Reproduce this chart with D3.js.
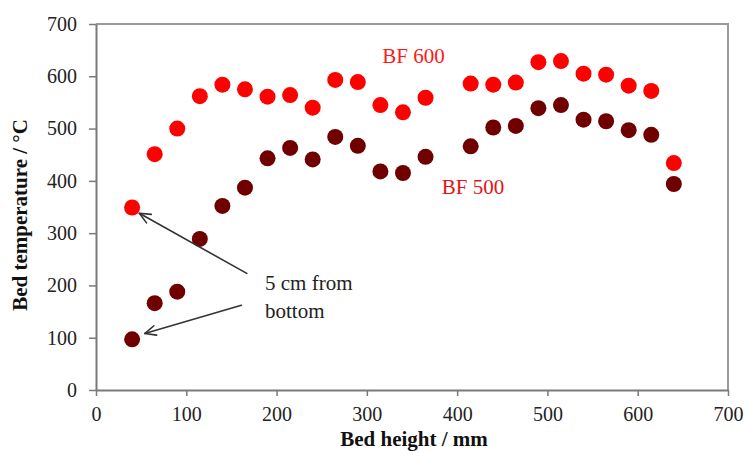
<!DOCTYPE html>
<html>
<head>
<meta charset="utf-8">
<script src="https://cdn.jsdelivr.net/npm/d3@7"></script>
<style>
  html, body { margin: 0; padding: 0; background: #fff; }
  svg { display: block; }
</style>
</head>
<body>
<svg id="chart" width="745" height="459"></svg>
<script>
// Bed heights (mm) where temperature was measured
const bedHeight = [40, 65, 90, 115, 140, 165, 190, 215, 240, 265, 290, 315, 340, 365,
                   415, 440, 465, 490, 515, 540, 565, 590, 615, 640];

// Bed temperature (°C) for each run
const tempBF600 = [349, 451, 500, 562, 584, 575, 561, 564, 540, 593, 589, 545, 531, 559,
                   586, 584, 588, 627, 629, 605, 603, 582, 572, 434];
const tempBF500 = [97, 166, 188, 289, 352, 387, 443, 463, 441, 484, 467, 418, 415, 446,
                   466, 502, 505, 539, 545, 517, 514, 497, 488, 394];

const xTicks = [0, 100, 200, 300, 400, 500, 600, 700];
const yTicks = [0, 100, 200, 300, 400, 500, 600, 700];

const seriesNames = ["BF 600", "BF 500"];
const noteLines = ["5 cm from", "bottom"];

const SERIF = "'Liberation Serif', 'Times New Roman', 'DejaVu Serif', serif";

const svg = d3.select("#chart").attr("font-family", SERIF);
const margin = { left: 96, right: 17, top: 24, bottom: 69 };
const W = 745, H = 459;

const x = d3.scaleLinear().domain([0, 700]).range([margin.left, W - margin.right]);
const y = d3.scaleLinear().domain([0, 700]).range([H - margin.bottom, margin.top]);

// Plot frame (top and right edges)
svg.append("path")
  .attr("d", `M${x(0)},${y(700)}H${x(700)}V${y(0)}`)
  .attr("fill", "none")
  .attr("stroke", "#9a9a9a")
  .attr("stroke-width", 2);

// Axes
const yAxis = svg.append("g")
  .attr("transform", `translate(${x(0)},0)`)
  .call(d3.axisLeft(y).tickValues(yTicks).tickSize(7).tickPadding(12).tickSizeOuter(0));
const xAxis = svg.append("g")
  .attr("transform", `translate(0,${y(0)})`)
  .call(d3.axisBottom(x).tickValues(xTicks).tickSize(6).tickPadding(11).tickSizeOuter(0));

[xAxis, yAxis].forEach(g => {
  g.attr("font-family", SERIF).attr("font-size", 20);
  g.select(".domain").attr("stroke", "#7a7a7a").attr("stroke-width", 2);
  g.selectAll(".tick line").attr("stroke", "#7a7a7a").attr("stroke-width", 1.5);
  g.selectAll(".tick text").attr("fill", "#222");
});

// Axis titles
svg.append("text")
  .attr("x", (x(0) + x(700)) / 2 + 2)
  .attr("y", 446)
  .attr("text-anchor", "middle")
  .attr("font-size", 21)
  .attr("font-weight", "bold")
  .attr("fill", "#111")
  .text("Bed height / mm");

svg.append("text")
  .attr("transform", `translate(27,${(y(0) + y(700)) / 2 + 8}) rotate(-90)`)
  .attr("text-anchor", "middle")
  .attr("font-size", 21)
  .attr("font-weight", "bold")
  .attr("fill", "#111")
  .text("Bed temperature / °C");

// Data points
const series = [
  { name: seriesNames[0], values: tempBF600, color: "#ff0000" },
  { name: seriesNames[1], values: tempBF500, color: "#700000" }
];

series.forEach(s => {
  svg.append("g")
    .selectAll("circle")
    .data(bedHeight.map((h, i) => ({ h, t: s.values[i] })))
    .join("circle")
    .attr("cx", d => x(d.h))
    .attr("cy", d => y(d.t))
    .attr("r", 8)
    .attr("fill", s.color);
});

// Series labels
svg.append("text")
  .attr("x", x(317)).attr("y", y(626))
  .attr("font-size", 21)
  .attr("fill", "#ff1a1a")
  .text(seriesNames[0]);

svg.append("text")
  .attr("x", x(383)).attr("y", y(375))
  .attr("font-size", 21)
  .attr("fill", "#e01515")
  .text(seriesNames[1]);

// Annotation: arrows to the lowest measurement point of each run
const arrows = [
  { from: [167, 223], to: [48, 338] },
  { from: [161, 162], to: [54, 108] }
];
const arrowG = svg.append("g")
  .attr("stroke", "#333")
  .attr("stroke-width", 1.6)
  .attr("fill", "none")
  .attr("stroke-linecap", "round");

arrows.forEach(a => {
  const x1 = x(a.from[0]), y1 = y(a.from[1]);
  const x2 = x(a.to[0]), y2 = y(a.to[1]);
  arrowG.append("line")
    .attr("x1", x1).attr("y1", y1)
    .attr("x2", x2).attr("y2", y2);
  // open V arrowhead at the tip
  const ang = Math.atan2(y1 - y2, x1 - x2);
  const len = 12, spread = 0.42;
  const p1 = [x2 + len * Math.cos(ang + spread), y2 + len * Math.sin(ang + spread)];
  const p2 = [x2 + len * Math.cos(ang - spread), y2 + len * Math.sin(ang - spread)];
  arrowG.append("path")
    .attr("stroke-linejoin", "round")
    .attr("d", `M${p1[0]},${p1[1]}L${x2},${y2}L${p2[0]},${p2[1]}`);
});

const note = svg.append("text")
  .attr("x", 265).attr("y", 290)
  .attr("font-size", 21)
  .attr("fill", "#222");
noteLines.forEach((line, i) => {
  note.append("tspan").attr("x", 265).attr("dy", i === 0 ? 0 : 28).text(line);
});
</script>
</body>
</html>
